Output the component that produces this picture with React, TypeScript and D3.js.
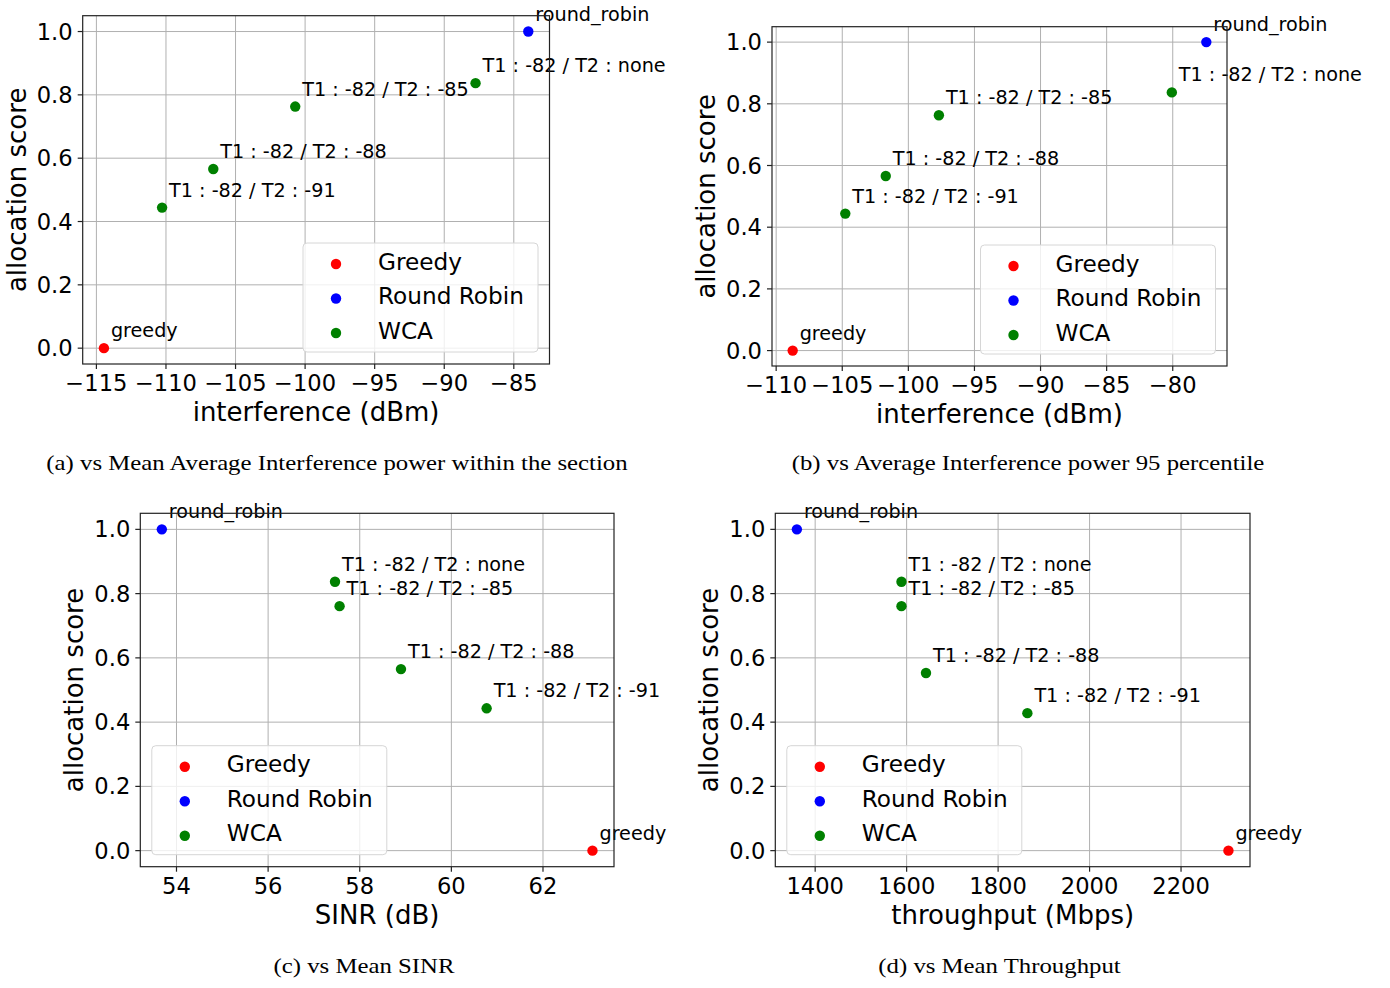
import React from "react";
import * as d3 from "d3";

// ---------- data ----------
const yTicks = [0, 0.2, 0.4, 0.6, 0.8, 1.0];
const wcaLabels = [
  "T1 : -82 / T2 : none",
  "T1 : -82 / T2 : -85",
  "T1 : -82 / T2 : -88",
  "T1 : -82 / T2 : -91",
];
const greedyLabel = "greedy";
const rrLabel = "round_robin";
const legendNames = ["Greedy", "Round Robin", "WCA"];
const seriesColors = ["#ff0000", "#0000ff", "#008000"];

// (a) mean average interference
const aWcaX = [-87.75, -100.71, -106.6, -110.28];
const aWcaY = [0.837, 0.763, 0.566, 0.444];
const aGreedy = [-114.46, 0];
const aRR = [-83.96, 1.0];
const aXTicks = [-115, -110, -105, -100, -95, -90, -85];

// (b) 95 percentile interference
const bWcaX = [-80.07, -97.69, -101.71, -104.77];
const bWcaY = [0.837, 0.763, 0.566, 0.444];
const bGreedy = [-108.75, 0];
const bRR = [-77.46, 1.0];
const bXTicks = [-110, -105, -100, -95, -90, -85, -80];

// (c) mean SINR
const cWcaX = [57.46, 57.56, 58.9, 60.77];
const cWcaY = [0.837, 0.761, 0.565, 0.443];
const cGreedy = [63.08, 0];
const cRR = [53.68, 1.0];
const cXTicks = [54, 56, 58, 60, 62];

// (d) mean throughput
const dWcaX = [1588.7, 1588.7, 1642.3, 1864];
const dWcaY = [0.837, 0.761, 0.553, 0.428];
const dGreedy = [2303.6, 0];
const dRR = [1360, 1.0];
const dXTicks = [1400, 1600, 1800, 2000, 2200];

const xLabels = ["interference (dBm)", "interference (dBm)", "SINR (dB)", "throughput (Mbps)"];
const yLabel = "allocation score";
const captions = [
  "(a) vs Mean Average Interference power within the section",
  "(b) vs Average Interference power 95 percentile",
  "(c) vs Mean SINR",
  "(d) vs Mean Throughput",
];

// ---------- layout ----------
const FONT = "'DejaVu Sans', sans-serif";
const SERIF = "'Liberation Serif', 'Times New Roman', serif";

type Box = { left: number; right: number; top: number; bottom: number };

function Panel(props: {
  box: Box;
  wcaX: number[];
  wcaY: number[];
  greedy: number[];
  rr: number[];
  xTicks: number[];
  xLabel: string;
  legendSide: "right" | "left";
  caption: string;
  captionX: number;
  captionY: number;
}) {
  const { box, wcaX, wcaY, greedy, rr, xTicks, xLabel, legendSide, caption, captionX, captionY } = props;
  const allX = [...wcaX, greedy[0], rr[0]];
  const [xmin, xmax] = d3.extent(allX) as [number, number];
  const pad = (xmax - xmin) * 0.05;
  const x = d3.scaleLinear().domain([xmin - pad, xmax + pad]).range([box.left, box.right]);
  const y = d3.scaleLinear().domain([-0.05, 1.05]).range([box.bottom, box.top]);
  const fx = d3.format("d");
  const fy = d3.format(".1f");

  const pts = [
    { x: greedy[0], y: greedy[1], c: seriesColors[0], label: greedyLabel },
    { x: rr[0], y: rr[1], c: seriesColors[1], label: rrLabel },
    ...wcaX.map((v, i) => ({ x: v, y: wcaY[i], c: seriesColors[2], label: wcaLabels[i] })),
  ];

  const legW = 235;
  const legH = 109;
  const legLeft = legendSide === "right" ? box.right - 11.5 - legW : box.left + 11.5;
  const legTop = box.bottom - 12 - legH;

  return (
    <g>
      {/* grid */}
      {xTicks.map((t) => (
        <line key={"gx" + t} x1={x(t)} x2={x(t)} y1={box.top} y2={box.bottom} stroke="#b0b0b0" strokeWidth={1} />
      ))}
      {yTicks.map((t) => (
        <line key={"gy" + t} x1={box.left} x2={box.right} y1={y(t)} y2={y(t)} stroke="#b0b0b0" strokeWidth={1} />
      ))}
      {/* points */}
      {pts.map((p, i) => (
        <circle key={"p" + i} cx={x(p.x)} cy={y(p.y)} r={5.2} fill={p.c} />
      ))}
      {/* annotations */}
      {pts.map((p, i) => (
        <text key={"t" + i} x={x(p.x) + 7} y={y(p.y) - 11} fontSize={19.2} fontFamily={FONT} fill="#000">
          {p.label}
        </text>
      ))}
      {/* legend */}
      <rect x={legLeft} y={legTop} width={legW} height={legH} rx={4} ry={4} fill="#fff" fillOpacity={0.8} stroke="#d6d6d6" strokeWidth={1} />
      {legendNames.map((n, i) => (
        <g key={"l" + i}>
          <circle cx={legLeft + 33} cy={legTop + 21 + i * 34.5} r={5.2} fill={seriesColors[i]} />
          <text x={legLeft + 75} y={legTop + 21 + i * 34.5 + 5.5} fontSize={23.2} fontFamily={FONT} fill="#000">
            {n}
          </text>
        </g>
      ))}
      {/* spines */}
      <rect x={box.left} y={box.top} width={box.right - box.left} height={box.bottom - box.top} fill="none" stroke="#222" strokeWidth={1.2} />
      {/* x ticks */}
      {xTicks.map((t) => (
        <g key={"xt" + t}>
          <line x1={x(t)} x2={x(t)} y1={box.bottom} y2={box.bottom + 5} stroke="#222" strokeWidth={1.2} />
          <text x={x(t)} y={box.bottom + 27} textAnchor="middle" fontSize={22.6} fontFamily={FONT} fill="#000">
            {fx(t)}
          </text>
        </g>
      ))}
      {/* y ticks */}
      {yTicks.map((t) => (
        <g key={"yt" + t}>
          <line x1={box.left - 5} x2={box.left} y1={y(t)} y2={y(t)} stroke="#222" strokeWidth={1.2} />
          <text x={box.left - 10} y={y(t) + 8} textAnchor="end" fontSize={22.6} fontFamily={FONT} fill="#000">
            {fy(t)}
          </text>
        </g>
      ))}
      {/* axis labels */}
      <text x={(box.left + box.right) / 2} y={box.bottom + 57} textAnchor="middle" fontSize={26} fontFamily={FONT} fill="#000">
        {xLabel}
      </text>
      <text
        transform={`translate(${box.left - 57},${(box.top + box.bottom) / 2}) rotate(-90)`}
        textAnchor="middle"
        fontSize={26}
        fontFamily={FONT}
        fill="#000"
      >
        {yLabel}
      </text>
      {/* caption */}
      <text
        transform={`translate(${captionX},${captionY}) scale(1.18,1)`}
        textAnchor="middle"
        fontSize={21}
        fontFamily={SERIF}
        fill="#000"
      >
        {caption}
      </text>
    </g>
  );
}

export default function App() {
  return (
    <svg
      width={1390}
      height={988}
      viewBox="0 0 1390 988"
      style={{ position: "absolute", left: 0, top: 0, background: "#fff" }}
    >
      <rect x={0} y={0} width={1390} height={988} fill="#fff" />
      <Panel
        box={{ left: 82.7, right: 549.5, top: 15.7, bottom: 364 }}
        wcaX={aWcaX}
        wcaY={aWcaY}
        greedy={aGreedy}
        rr={aRR}
        xTicks={aXTicks}
        xLabel={xLabels[0]}
        legendSide="right"
        caption={captions[0]}
        captionX={337}
        captionY={470}
      />
      <Panel
        box={{ left: 772, right: 1227, top: 26.7, bottom: 366 }}
        wcaX={bWcaX}
        wcaY={bWcaY}
        greedy={bGreedy}
        rr={bRR}
        xTicks={bXTicks}
        xLabel={xLabels[1]}
        legendSide="right"
        caption={captions[1]}
        captionX={1028}
        captionY={470}
      />
      <Panel
        box={{ left: 140.3, right: 614, top: 513.3, bottom: 866.7 }}
        wcaX={cWcaX}
        wcaY={cWcaY}
        greedy={cGreedy}
        rr={cRR}
        xTicks={cXTicks}
        xLabel={xLabels[2]}
        legendSide="left"
        caption={captions[2]}
        captionX={364}
        captionY={973}
      />
      <Panel
        box={{ left: 775.3, right: 1250, top: 513.3, bottom: 866.7 }}
        wcaX={dWcaX}
        wcaY={dWcaY}
        greedy={dGreedy}
        rr={dRR}
        xTicks={dXTicks}
        xLabel={xLabels[3]}
        legendSide="left"
        caption={captions[3]}
        captionX={999.5}
        captionY={973}
      />
    </svg>
  );
}
